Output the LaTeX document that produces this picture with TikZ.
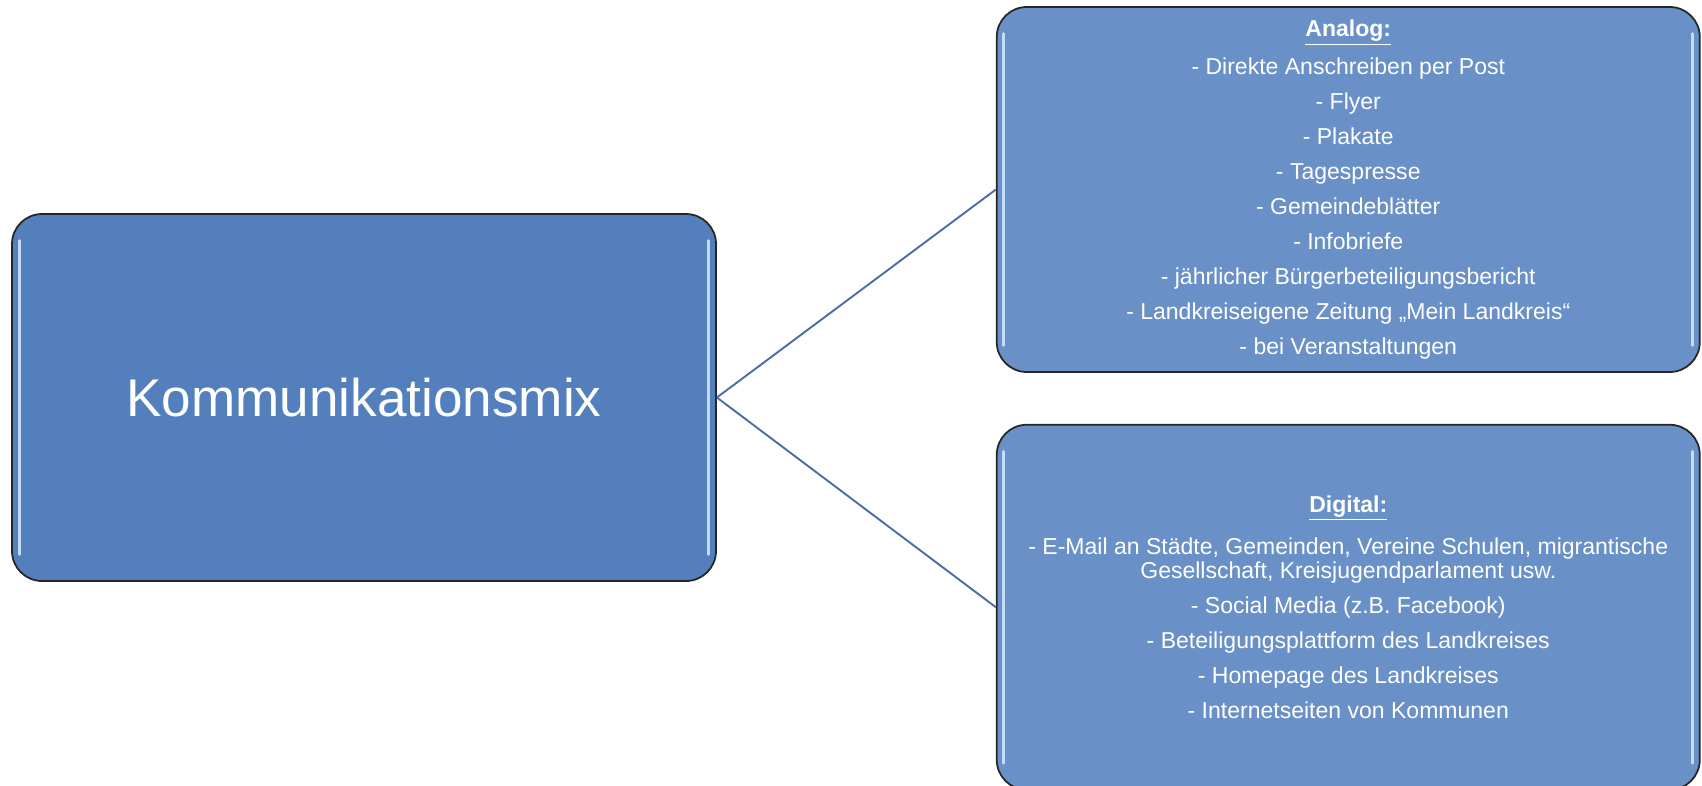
\documentclass[tikz,border=0pt]{standalone}
\usepackage{fontspec}
\setmainfont{Liberation Sans}
\usepackage{tikz}
\usetikzlibrary{positioning,calc}
\usepackage{xcolor}

\definecolor{mixblue}{RGB}{84,127,189}
\definecolor{listblue}{RGB}{105,144,199}
\definecolor{linkblue}{RGB}{79,109,165}
\definecolor{glare}{RGB}{196,220,248}

\begin{document}
\begin{tikzpicture}[
  font=\fontsize{13.1}{13.7}\selectfont,
  node distance=1.02cm and 5.58cm,
  mainbox/.style={draw=black!85, line width=1pt, rounded corners=0.6cm, fill=mixblue, minimum width=14.08cm, minimum height=7.34cm, text=white, align=center, inner sep=0pt},
  listbox/.style={draw=black!85, line width=1pt, rounded corners=0.6cm, fill=listblue, minimum width=14.06cm, minimum height=7.30cm, text=white, align=center, inner sep=0pt},
  link/.style={line width=1.1pt, linkblue},
  shine/.style={line width=1.6pt, glare, line cap=round},
]

% page frame
\path[use as bounding box] (0,0) rectangle (34.04,-15.70);
\clip (0,0) rectangle (34.04,-15.70);

% main topic
\node[mainbox, font=\fontsize{30.2}{36}\selectfont] (main) at (7.28,-7.95) {Kommunikationsmix};

% analog channels
\node[listbox, anchor=west] (analog) at ($(main.east)+(5.58,4.16)$) {\underline{\textbf{Analog:}}\\[6.2pt]
  - Direkte Anschreiben per Post\\[6.2pt]
  - Flyer\\[6.2pt]
  - Plakate\\[6.2pt]
  - Tagespresse\\[6.2pt]
  - Gemeindeblätter\\[6.2pt]
  - Infobriefe\\[6.2pt]
  - jährlicher Bürgerbeteiligungsbericht\\[6.2pt]
  - Landkreiseigene Zeitung „Mein Landkreis“\\[6.2pt]
  - bei Veranstaltungen};

% digital channels
\node[listbox, below=of analog] (digital) {\underline{\textbf{Digital:}}\\[8.5pt]
  - E-Mail an Städte, Gemeinden, Vereine Schulen, migrantische\\
  Gesellschaft, Kreisjugendparlament usw.\\[6.6pt]
  - Social Media (z.B. Facebook)\\[6.2pt]
  - Beteiligungsplattform des Landkreises\\[6.2pt]
  - Homepage des Landkreises\\[6.2pt]
  - Internetseiten von Kommunen};

% highlights on the box edges
\foreach \b in {main,analog,digital} {
  \draw[shine] ($(\b.north west)+(0.16,-0.55)$) -- ($(\b.south west)+(0.16,0.55)$);
  \draw[shine] ($(\b.north east)+(-0.16,-0.55)$) -- ($(\b.south east)+(-0.16,0.55)$);
}

% connectors
\draw[link] (main.east) -- (analog.west);
\draw[link] (main.east) -- (digital.west);

\end{tikzpicture}
\end{document}
